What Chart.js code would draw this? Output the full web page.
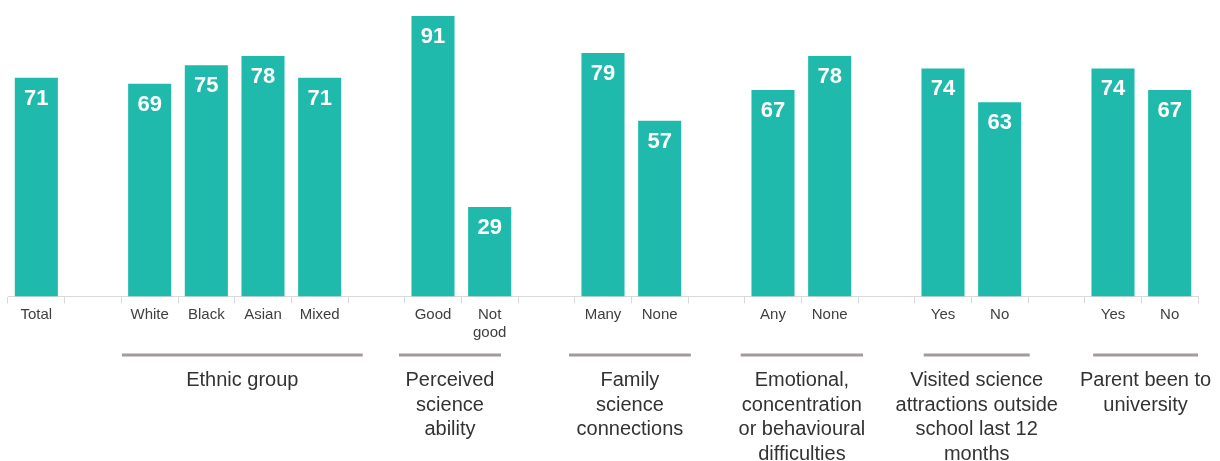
<!DOCTYPE html>
<html>
<head>
<meta charset="utf-8">
<script src="https://cdn.jsdelivr.net/npm/chart.js@4"></script>
<style>
  body { margin: 0; background: #fff; }
  canvas { display: block; }
</style>
</head>
<body>
<canvas id="barChart" width="1220" height="461"></canvas>
<script>
// Categories (empty strings are spacer slots between groups)
const categories = [
  'Total', '', 'White', 'Black', 'Asian', 'Mixed', '',
  ['Good'], ['Not', 'good'], '', 'Many', 'None', '',
  'Any', 'None', '', 'Yes', 'No', '', 'Yes', 'No'
];
const values = [
  71, null, 69, 75, 78, 71, null,
  91, 29, null, 79, 57, null,
  67, 78, null, 74, 63, null, 74, 67
];
const groupNames = [
  ['Ethnic group'],
  ['Perceived', 'science', 'ability'],
  ['Family', 'science', 'connections'],
  ['Emotional,', 'concentration', 'or behavioural', 'difficulties'],
  ['Visited science', 'attractions outside', 'school last 12', 'months'],
  ['Parent been to', 'university']
];
// span of each group underline, in category-slot units
const groupSpans = [
  [2.01, 6.26], [6.9, 8.7], [9.9, 12.05], [12.93, 15.09], [16.16, 18.03], [19.15, 21.0]
];

const ctx = document.getElementById('barChart').getContext('2d');

// Value labels inside the top of each bar
const valueLabels = {
  id: 'valueLabels',
  afterDatasetsDraw(chart) {
    const { ctx } = chart;
    const meta = chart.getDatasetMeta(0);
    ctx.save();
    ctx.fillStyle = '#ffffff';
    ctx.font = 'bold 22px "Liberation Sans", Arial, sans-serif';
    ctx.textAlign = 'center';
    ctx.textBaseline = 'middle';
    meta.data.forEach((bar, i) => {
      if (values[i] == null) return;
      ctx.fillText(String(values[i]), bar.x, bar.y + 21);
    });
    ctx.restore();
  }
};

// Group underlines and group titles below the axis
const groupLabels = {
  id: 'groupLabels',
  afterDraw(chart) {
    const { ctx, chartArea } = chart;
    const slot = (chartArea.right - chartArea.left) / categories.length;
    ctx.save();
    groupSpans.forEach((span, g) => {
      const x1 = chartArea.left + span[0] * slot;
      const x2 = chartArea.left + span[1] * slot;
      ctx.strokeStyle = '#a39b9b';
      ctx.lineWidth = 3;
      ctx.beginPath();
      ctx.moveTo(x1, chartArea.bottom + 58.5);
      ctx.lineTo(x2, chartArea.bottom + 58.5);
      ctx.stroke();

      ctx.fillStyle = '#333333';
      ctx.font = '20px "Liberation Sans", Arial, sans-serif';
      ctx.textAlign = 'center';
      ctx.textBaseline = 'middle';
      const cx = (x1 + x2) / 2;
      groupNames[g].forEach((line, k) => {
        ctx.fillText(line, cx, chartArea.bottom + 84 + k * 24.5);
      });
    });
    ctx.restore();
  }
};

new Chart(ctx, {
  type: 'bar',
  data: {
    labels: categories,
    datasets: [{
      data: values,
      backgroundColor: '#20baad',
      borderWidth: 0,
      barPercentage: 0.76,
      categoryPercentage: 1.0
    }]
  },
  options: {
    responsive: false,
    animation: false,
    layout: { padding: { top: 16, left: 8, right: 22, bottom: 0 } },
    plugins: {
      legend: { display: false },
      tooltip: { enabled: false }
    },
    scales: {
      x: {
        offset: true,
        afterFit(scale) { scale.height = 164.5; },
        grid: {
          offset: true,
          drawOnChartArea: false,
          drawTicks: true,
          tickLength: 7,
          color: '#d9d9d9'
        },
        border: { color: '#d9d9d9', width: 1 },
        ticks: {
          color: '#404040',
          padding: 3,
          maxRotation: 0,
          autoSkip: false,
          font: { family: '"Liberation Sans", Arial, sans-serif', size: 15, lineHeight: 1.15 }
        }
      },
      y: {
        display: false,
        min: 0,
        max: 91
      }
    }
  },
  plugins: [valueLabels, groupLabels]
});
</script>
</body>
</html>
